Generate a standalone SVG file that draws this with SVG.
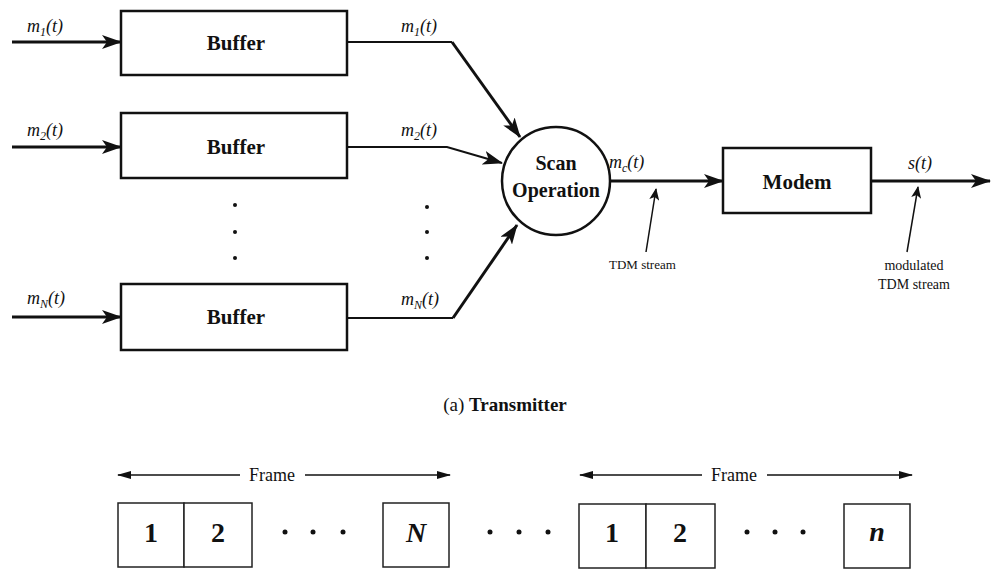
<svg xmlns="http://www.w3.org/2000/svg" width="991" height="569" viewBox="0 0 991 569">
<defs>
<marker id="ah" viewBox="0 0 20 14" refX="19" refY="7" markerWidth="20" markerHeight="14" markerUnits="userSpaceOnUse" orient="auto">
<path d="M0,0 L20,7 L0,14 L5,7 Z" fill="#111"/>
</marker>
<marker id="sh" viewBox="0 0 12 10" refX="11" refY="5" markerWidth="12" markerHeight="10" markerUnits="userSpaceOnUse" orient="auto">
<path d="M0,0 L12,5 L0,10 L3,5 Z" fill="#111"/>
</marker>
<marker id="fh" viewBox="0 0 14 10" refX="13" refY="5" markerWidth="14" markerHeight="10" markerUnits="userSpaceOnUse" orient="auto-start-reverse">
<path d="M0,1 L14,5 L0,9 Z" fill="#111"/>
</marker>
</defs>
<style>
.box{fill:#fff;stroke:#111;stroke-width:2.5}
.cell{fill:#fff;stroke:#222;stroke-width:1.5}
.bt{font-family:"Liberation Serif",serif;font-weight:bold;font-size:21px;fill:#111;text-anchor:middle}
.op{font-size:20px}
.lab{font-family:"Liberation Serif",serif;font-style:italic;font-size:18px;fill:#111}
.sub{font-size:12px}
.sm{font-family:"Liberation Serif",serif;font-size:13px;fill:#111}
.sm2{font-family:"Liberation Serif",serif;font-size:14px;fill:#111;text-anchor:middle}
.frm{font-family:"Liberation Serif",serif;font-size:18px;fill:#111;text-anchor:middle}
.num{font-family:"Liberation Serif",serif;font-weight:bold;font-size:28px;fill:#111;text-anchor:middle}
.ni{font-style:italic}
.thick{stroke:#111;stroke-width:3;fill:none}
.thin{stroke:#111;stroke-width:2;fill:none}
.fr{stroke:#111;stroke-width:1.5;fill:none}
</style>
<rect width="991" height="569" fill="#fff"/>
<g id="connectors">
<line class="thick" x1="12" y1="42" x2="121" y2="42" marker-end="url(#ah)"/>
<line class="thick" x1="12" y1="147" x2="121" y2="147" marker-end="url(#ah)"/>
<line class="thick" x1="12" y1="317" x2="121" y2="317" marker-end="url(#ah)"/>
<polyline class="thin" points="347,42 452,42"/>
<line class="thick" x1="452" y1="42" x2="520" y2="137" marker-end="url(#ah)"/>
<polyline class="thin" points="347,147 447,147 502,163" marker-end="url(#ah)"/>
<polyline class="thin" points="347,318 453,318"/>
<line class="thick" x1="453" y1="318" x2="517" y2="225" marker-end="url(#ah)"/>
<line class="thick" x1="610" y1="181" x2="723" y2="181" marker-end="url(#ah)"/>
<line class="thick" x1="871" y1="181" x2="990" y2="181" marker-end="url(#ah)"/>
<line class="fr" x1="646" y1="252" x2="656" y2="189" marker-end="url(#sh)"/>
<line class="fr" x1="907" y1="252" x2="918" y2="187" marker-end="url(#sh)"/>
<line class="fr" x1="240" y1="475" x2="118" y2="475" marker-end="url(#fh)"/>
<line class="fr" x1="305" y1="475" x2="450" y2="475" marker-end="url(#fh)"/>
<line class="fr" x1="702" y1="475" x2="580" y2="475" marker-end="url(#fh)"/>
<line class="fr" x1="767" y1="475" x2="912" y2="475" marker-end="url(#fh)"/>
</g>
<g id="buffer1"><rect class="box" x="121" y="11" width="226" height="64"/><text class="bt" x="236" y="50">Buffer</text></g>
<g id="buffer2"><rect class="box" x="121" y="113" width="226" height="65"/><text class="bt" x="236" y="154">Buffer</text></g>
<g id="buffern"><rect class="box" x="121" y="284" width="226" height="66"/><text class="bt" x="236" y="324">Buffer</text></g>
<g id="scan"><circle cx="556" cy="181" r="54" fill="#fff" stroke="#111" stroke-width="2.5"/><text class="bt op" x="556" y="170">Scan</text><text class="bt op" x="556" y="197">Operation</text></g>
<g id="modem"><rect class="box" x="723" y="148" width="148" height="65"/><text class="bt" x="797" y="189">Modem</text></g>
<g id="labels">
<text class="lab" x="27" y="32">m<tspan class="sub" dy="4">1</tspan><tspan dy="-4">(t)</tspan></text>
<text class="lab" x="27" y="136">m<tspan class="sub" dy="4">2</tspan><tspan dy="-4">(t)</tspan></text>
<text class="lab" x="27" y="304">m<tspan class="sub" dy="4">N</tspan><tspan dy="-4">(t)</tspan></text>
<text class="lab" x="401" y="32">m<tspan class="sub" dy="4">1</tspan><tspan dy="-4">(t)</tspan></text>
<text class="lab" x="401" y="136">m<tspan class="sub" dy="4">2</tspan><tspan dy="-4">(t)</tspan></text>
<text class="lab" x="401" y="305">m<tspan class="sub" dy="4">N</tspan><tspan dy="-4">(t)</tspan></text>
<text class="lab" x="609" y="168">m<tspan class="sub" dy="4">c</tspan><tspan dy="-4">(t)</tspan></text>
<text class="lab" x="908" y="169">s(t)</text>
<text class="sm" x="609" y="269">TDM stream</text>
<text class="sm2" x="914" y="270">modulated</text>
<text class="sm2" x="914" y="289">TDM stream</text>
<text x="505" y="411" text-anchor="middle" font-family="Liberation Serif,serif" font-size="19" fill="#111">(a) <tspan font-weight="bold">Transmitter</tspan></text>
<text class="frm" x="272" y="481">Frame</text>
<text class="frm" x="734" y="481">Frame</text>
</g>
<g id="dots" fill="#111">
<circle cx="235" cy="205" r="2"/><circle cx="235" cy="232" r="2"/><circle cx="235" cy="258" r="2"/>
<circle cx="427" cy="207" r="2"/><circle cx="427" cy="232" r="2"/><circle cx="427" cy="258" r="2"/>
<circle cx="285" cy="532" r="2.5"/><circle cx="313" cy="532" r="2.5"/><circle cx="343" cy="532" r="2.5"/>
<circle cx="490" cy="532" r="2.5"/><circle cx="519" cy="532" r="2.5"/><circle cx="548" cy="532" r="2.5"/>
<circle cx="747" cy="532" r="2.5"/><circle cx="775" cy="532" r="2.5"/><circle cx="803" cy="532" r="2.5"/>
</g>
<g id="frame1">
<rect class="cell" x="118" y="503" width="66" height="64"/><text class="num" x="151" y="542">1</text>
<rect class="cell" x="184" y="503" width="68" height="64"/><text class="num" x="218" y="542">2</text>
<rect class="cell" x="383" y="503" width="66" height="64"/><text class="num ni" x="416" y="542">N</text>
</g>
<g id="frame2">
<rect class="cell" x="579" y="504" width="67" height="64"/><text class="num" x="612" y="542">1</text>
<rect class="cell" x="646" y="504" width="69" height="64"/><text class="num" x="680" y="542">2</text>
<rect class="cell" x="844" y="504" width="66" height="64"/><text class="num ni" x="877" y="541">n</text>
</g>
</svg>
